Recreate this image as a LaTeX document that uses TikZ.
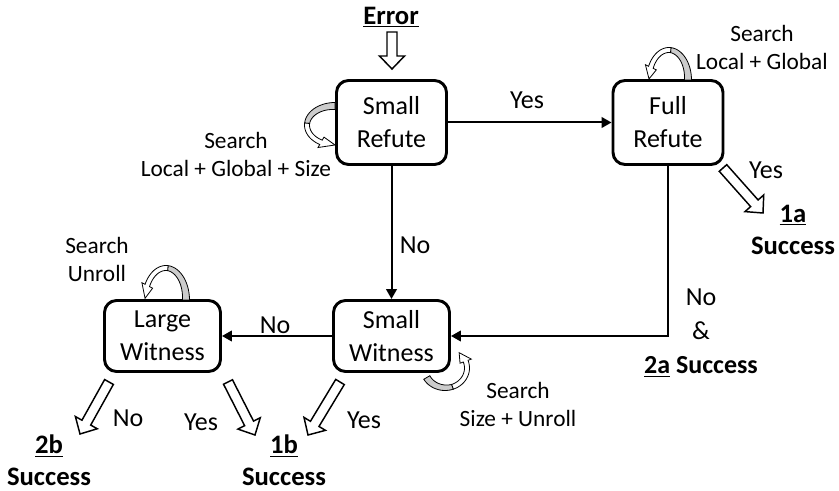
\documentclass[tikz,border=0pt]{standalone}
\usepackage{fontspec}
\setmainfont{Carlito}
\usetikzlibrary{arrows.meta,calc}
\tikzset{
  box/.style={draw, line width=2.2pt, rounded corners=9pt, fill=white, align=center, font=\fontsize{19.5}{24.75}\selectfont},
  refute/.style={box, minimum width=82.5pt, minimum height=63pt},
  witness/.style={box, minimum width=87pt, minimum height=53.25pt},
  lbl/.style={font=\fontsize{19.5}{25.5}\selectfont},
  srch/.style={align=center, font=\fontsize{17.5}{21}\selectfont},
  succ/.style={align=center, font=\bfseries\fontsize{20}{24}\selectfont},
  conn/.style={line width=1.5pt, -{Triangle[length=7.5pt,width=8pt]}},
  hollow/.style={draw, fill=white, line width=1.1pt, line join=miter},
  band/.style={draw, line width=0.6pt}
}
\newcommand{\hollowarrow}[2]{%
  \path[hollow] let \p3=($(#2)!9.75pt!(#1)$) in
    ($(#1)!3.75pt!90:(#2)$) -- ($(\p3)!3.75pt!90:(#2)$) -- ($(\p3)!9.4pt!90:(#2)$) -- (#2)
    -- ($(\p3)!9.4pt!-90:(#2)$) -- ($(\p3)!3.75pt!-90:(#2)$) -- ($(#1)!3.75pt!-90:(#2)$) -- cycle;}
\newcommand{\loopband}[8]{%
  \begin{scope}[shift={(#1,#2)}]
    \filldraw[band, fill=gray!40]
      plot[domain=#5:#6, samples=16, variable=\t] ({(#3+2.5)*cos(\t)},{(#4+2.5)*sin(\t)})
      -- plot[domain=#6:#5, samples=16, variable=\t] ({(#3-2.5-2*(\t-(#6))/((#5)-(#6)))*cos(\t)},{(#4-2.5-2*(\t-(#6))/((#5)-(#6)))*sin(\t)})
      -- cycle;
    \filldraw[band, fill=white]
      plot[domain=#6:#7, samples=16, variable=\t] ({(#3+2.5)*cos(\t)},{(#4+2.5)*sin(\t)})
      -- ({(#3+6)*cos(#7)},{(#4+6)*sin(#7)}) -- ({#3*cos(#8)},{#4*sin(#8)}) -- ({(#3-6)*cos(#7)},{(#4-6)*sin(#7)})
      -- plot[domain=#7:#6, samples=16, variable=\t] ({(#3-2.5)*cos(\t)},{(#4-2.5)*sin(\t)})
      -- cycle;
  \end{scope}}
\begin{document}
\begin{tikzpicture}[x=0.75pt, y=-0.75pt]
\useasboundingbox (0,0) rectangle (839,491);
\node[refute] (sr) at (391.5,122.5) {Small\\Refute};
\node[refute] (fr) at (668,122.5) {Full\\Refute};
\node[witness] (sw) at (391.5,336) {Small\\Witness};
\node[witness] (lw) at (162.5,336) {Large\\Witness};
\draw[conn] (sr) -- (fr);
\draw[conn] (sr) -- (sw);
\draw[conn] (fr) |- (sw);
\draw[conn] (sw) -- (lw);
\node[lbl] (yes1) at (527,100) {Yes};
\node[lbl] (no1) at (415,245) {No};
\node[lbl] (no2) at (275,325) {No};
\node[lbl, align=center] (no3) at (701,333) {No\\\&\\\textbf{\underline{2a} Success}};
\node[lbl] (yes2) at (766,170) {Yes};
\node[lbl] (no4) at (128,418) {No};
\node[lbl] (yes3) at (201,422) {Yes};
\node[lbl] (yes4) at (364,420) {Yes};
\node[srch] (s1) at (236,154) {Search\\Local + Global + Size};
\node[srch] (s2) at (762,47) {Search\\Local + Global};
\node[srch] (s3) at (97,259) {Search\\Unroll};
\node[srch] (s4) at (518,404) {Search\\Size + Unroll};
\node[succ] (err) at (391,17) {\underline{Error}};
\node[succ] (ok1a) at (793,230) {\underline{1a}\\Success};
\node[succ] (ok2b) at (49,460.5) {\underline{2b}\\Success};
\node[succ] (ok1b) at (284,460.5) {\underline{1b}\\Success};
\coordinate (errtail) at (392,32);
\coordinate (errtip) at (392,69);
\coordinate (frtail) at (723,168);
\coordinate (frtip) at (763,213);
\coordinate (lwnotail) at (109,382);
\coordinate (lwnotip) at (80,434);
\coordinate (lwyestail) at (228,382);
\coordinate (lwyestip) at (255,435);
\coordinate (swyestail) at (340,382);
\coordinate (swyestip) at (308,435);
\hollowarrow{errtail}{errtip}
\hollowarrow{frtail}{frtip}
\hollowarrow{lwnotail}{lwnotip}
\hollowarrow{lwyestail}{lwyestip}
\hollowarrow{swyestail}{swyestip}
\loopband{335}{125}{28}{20}{270}{185}{120}{90}
\loopband{669}{80}{20}{30}{360}{275}{205}{182}
\loopband{166}{300}{21}{32}{360}{275}{207}{183}
\loopband{445}{368}{22}{20}{150}{70}{-20}{-50}
\end{tikzpicture}
\end{document}
